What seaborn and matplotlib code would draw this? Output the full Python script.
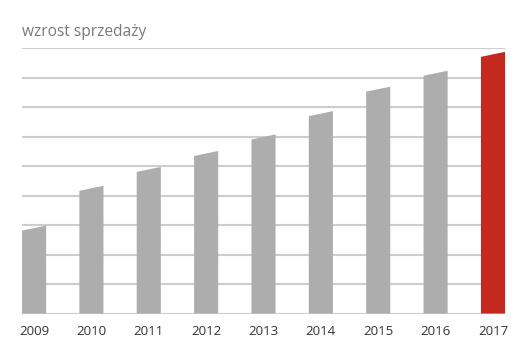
import matplotlib
matplotlib.use('Agg')
import matplotlib.pyplot as plt
import seaborn as sns
import pandas as pd
from matplotlib.patches import Polygon

# chart data (in gridline units)
years = ['2009', '2010', '2011', '2012', '2013', '2014', '2015', '2016', '2017']
values = [2.98, 4.33, 4.97, 5.51, 6.07, 6.86, 7.69, 8.23, 8.87]
title = 'wzrost sprzedaży'

gray = '#adadad'
red = '#c4291f'
grid_col = '#cdcdcd'
slant = 0.17  # left edge of each bar top sits a bit lower

df = pd.DataFrame({'year': years, 'value': values})
colors = [gray] * (len(years) - 1) + [red]

sns.set_style('white')
plt.rcParams['font.family'] = ['Open Sans', 'DejaVu Sans']

fig = plt.figure(figsize=(5.3, 3.6), dpi=100)
ax = fig.add_axes([22 / 530, 46.5 / 360, 483 / 530, 265.5 / 360])

sns.barplot(data=df, x='year', y='value', hue='year', palette=colors,
            saturation=1, legend=False, width=0.42, ax=ax, zorder=3)

# swap flat rectangles for bars with slanted tops
for bar in list(ax.patches):
    x0 = bar.get_x()
    w = bar.get_width()
    h = bar.get_height()
    poly = Polygon([(x0, 0), (x0 + w, 0), (x0 + w, h), (x0, h - slant)],
                   closed=True, facecolor=bar.get_facecolor(),
                   edgecolor='none', zorder=3)
    bar.remove()
    ax.add_patch(poly)

ax.set_xlim(-0.21, len(years) - 1 + 0.21)
ax.set_ylim(0, 9)
ax.set_yticks(range(0, 10))
ax.yaxis.grid(True, color=grid_col, linewidth=1.5, zorder=0)
ax.set_yticklabels([])
ax.tick_params(axis='y', length=0)
ax.tick_params(axis='x', length=0, pad=8.5, labelsize=9.5, labelcolor='#333333')
ax.set_xlabel('')
ax.set_ylabel('')
for s in ax.spines.values():
    s.set_visible(False)

fig.text(22 / 530, 1 - 32 / 360, title, fontsize=11.2, color='#7a7a7a',
         ha='left', va='center')

fig.savefig('out.png', dpi=100)
